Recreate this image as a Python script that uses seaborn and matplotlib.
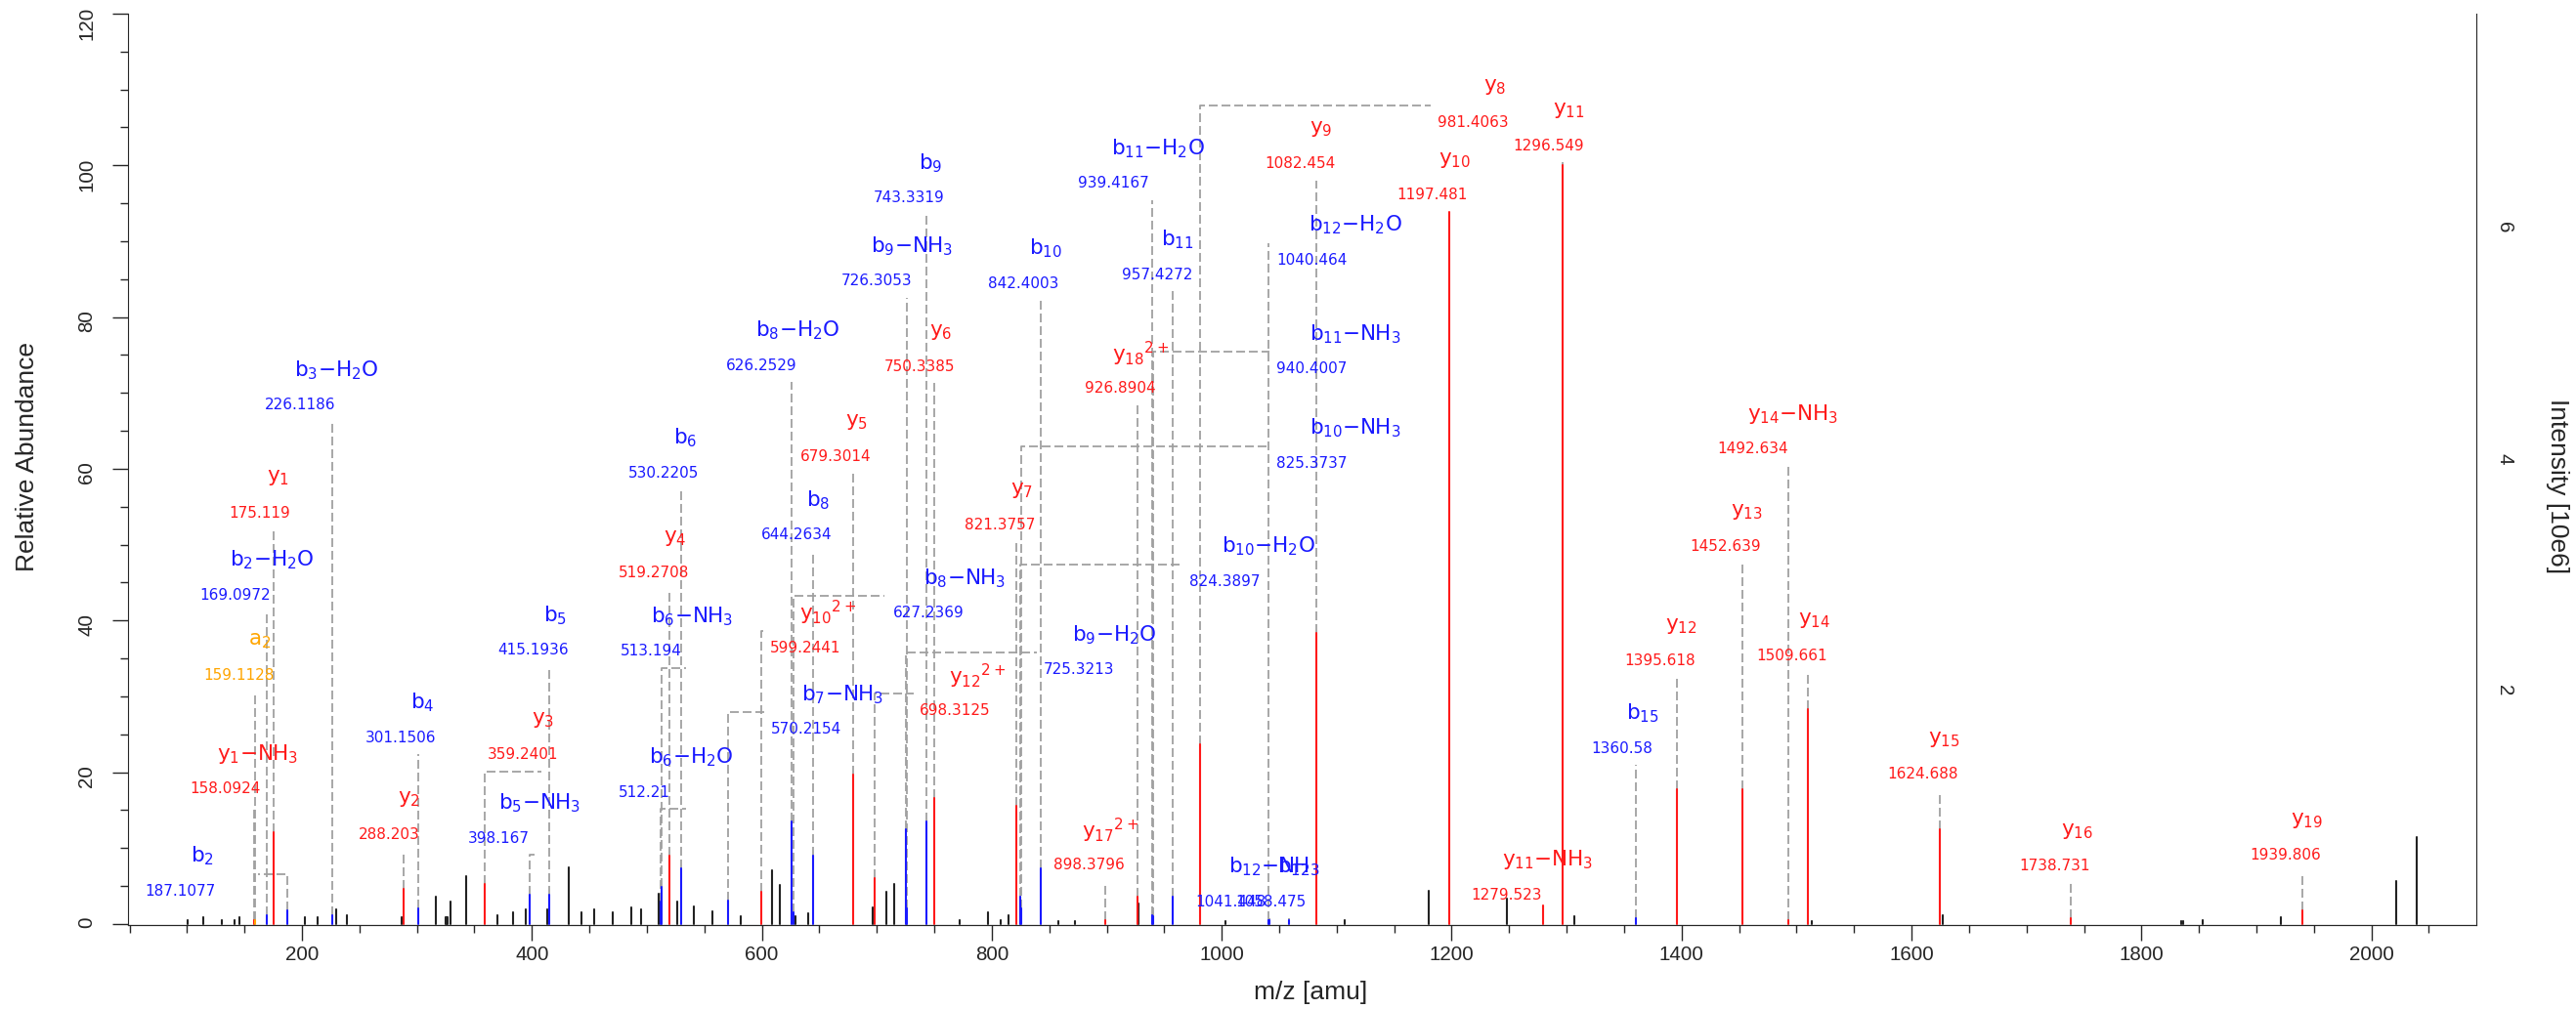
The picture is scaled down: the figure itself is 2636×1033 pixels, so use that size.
import re
import pandas as pd
import matplotlib
matplotlib.use("Agg")
import matplotlib.pyplot as plt
from matplotlib.ticker import MultipleLocator
import seaborn as sns

sns.set_style("ticks")
plt.rcParams["font.family"] = ["Liberation Sans", "DejaVu Sans"]
plt.rcParams["mathtext.fontset"] = "dejavusans"
plt.rcParams["mathtext.default"] = "regular"

# annotated fragment ions
ion_names = ["b2", "b2-H2O", "y1", "a2", "y1-NH3", "b3-H2O", "y2", "b4", "y3", "b5-NH3",
             "b5", "b6-H2O", "b6-NH3", "y4", "b6", "b7-NH3", "y10^2+", "b8-H2O", "b8-NH3", "b8",
             "y5", "y12^2+", "b9-H2O", "b9-NH3", "b9", "y6", "y7", "b10-H2O", "b10-NH3", "b10",
             "y17^2+", "y18^2+", "b11-H2O", "b11-NH3", "b11", "y8", "b12-H2O", "b12-NH3", "b12", "y9",
             "y10", "y11", "y11-NH3", "b15", "y12", "y13", "y14-NH3", "y14", "y15", "y16", "y19"]
ion_mz = [187.1077, 169.0972, 175.119, 159.1128, 158.0924, 226.1186, 288.203, 301.1506, 359.2401, 398.167,
          415.1936, 512.21, 513.194, 519.2708, 530.2205, 570.2154, 599.2441, 626.2529, 627.2369, 644.2634,
          679.3014, 698.3125, 725.3213, 726.3053, 743.3319, 750.3385, 821.3757, 824.3897, 825.3737, 842.4003,
          898.3796, 926.8904, 939.4167, 940.4007, 957.4272, 981.4063, 1040.464, 1041.448, 1058.475, 1082.454,
          1197.481, 1296.549, 1279.523, 1360.58, 1395.618, 1452.639, 1492.634, 1509.661, 1624.688, 1738.731, 1939.806]
ion_int = [1.8, 1.2, 12.1, 0.55, 0.55, 1.1, 4.6, 2.1, 5.3, 3.9,
           3.9, 3.0, 4.9, 9.0, 7.3, 3.1, 4.2, 13.5, 1.5, 9.0,
           19.7, 6.0, 12.5, 2.0, 13.5, 16.6, 15.6, 3.6, 2.0, 7.3,
           0.5, 3.6, 1.2, 1.0, 3.6, 23.7, 0.5, 0.5, 0.5, 38.3,
           93.9, 100.0, 2.5, 0.7, 17.7, 17.7, 0.5, 28.3, 12.5, 0.7, 1.84]

# unassigned peaks
other_mz = [100.3, 113.9, 130.0, 141.4, 145.9, 202.6, 213.9, 230.0, 239.1, 286.4,
            316.2, 324.6, 325.8, 327.0, 329.5, 343.1, 370.3, 383.9, 394.9, 413.3,
            431.8, 443.1, 454.1, 470.5, 486.4, 495.2, 510.2, 526.6, 540.9, 556.8,
            581.5, 608.6, 615.6, 629.1, 640.3, 696.7, 708.3, 715.3, 771.8, 796.4,
            808.1, 814.8, 858.1, 872.2, 927.9, 1003.2, 1107.3, 1180.3, 1248.3, 1307.1,
            1513.2, 1627.0, 1834.3, 1836.2, 1853.4, 1921.4, 2021.5, 2039.3]
other_int = [0.55, 0.86, 0.5, 0.5, 0.86, 0.86, 0.86, 1.93, 1.2, 0.86,
             3.56, 0.86, 0.86, 0.86, 2.9, 6.35, 1.2, 1.54, 1.93, 1.93,
             7.4, 1.54, 1.93, 1.5, 2.2, 1.9, 4.0, 3.0, 2.3, 1.7,
             1.0, 7.1, 5.1, 1.0, 1.4, 2.2, 4.3, 5.3, 0.5, 1.6,
             0.5, 1.2, 0.4, 0.4, 2.7, 0.4, 0.5, 4.4, 3.4, 1.0,
             0.4, 1.2, 0.4, 0.4, 0.5, 0.9, 5.7, 11.5]

# label layout (ion name centre, number centre x)
name_x = [113.3, 173.4, 179.1, 163.5, 161.2, 229.9, 293.5, 304.6, 409.8, 406.6,
          420.2, 538.3, 539.2, 524.2, 533.2, 670.1, 657.3, 631.0, 776.3, 649.3,
          682.8, 787.4, 906.8, 730.8, 746.6, 755.9, 826.0, 1040.7, 1116.3, 846.9,
          903.4, 929.3, 944.6, 1116.3, 961.6, 1237.9, 1116.3, 1045.8, 1062.8, 1086.6,
          1202.6, 1301.6, 1283.4, 1366.2, 1399.4, 1456.3, 1496.8, 1515.0, 1628.0, 1744.1, 1943.4]
name_y = [8.92, 47.96, 58.78, 37.32, 22.43, 72.97, 16.43, 29.18, 26.94, 15.87,
          40.67, 21.94, 40.54, 50.84, 64.05, 30.24, 40.98, 78.21, 45.59, 55.85,
          66.19, 32.69, 38.13, 89.36, 100.3, 78.08, 57.18, 49.75, 65.34, 89.06,
          12.32, 75.2, 102.2, 77.77, 90.22, 110.3, 92.15, 7.54, 7.54, 104.8,
          100.7, 107.2, 8.44, 27.75, 39.32, 54.31, 67.27, 40.0, 24.32, 12.23, 13.67]
num_x = [94.3, 142.0, 163.1, 145.6, 132.9, 198.6, 276.0, 285.5, 391.8, 371.4,
         401.3, 497.5, 503.5, 506.0, 514.5, 638.2, 637.8, 599.5, 744.9, 630.4,
         664.1, 768.2, 875.8, 699.5, 727.9, 736.9, 806.9, 1002.4, 1078.1, 827.3,
         884.6, 911.5, 906.0, 1078.1, 943.5, 1218.7, 1078.1, 1007.9, 1042.4, 1068.2,
         1183.3, 1284.2, 1248.0, 1348.4, 1381.5, 1438.5, 1461.8, 1496.3, 1609.9, 1724.9, 1925.2]

# leaders that bend sideways to the label
side_leaders = {"b2": 161.7, "b7-NH3": 601.9, "y10^2+": 601.0, "b8-NH3": 706.6, "y12^2+": 732.3,
                "b9-H2O": 839.5, "b10-H2O": 965.9, "b10-NH3": 1041.5, "b11-NH3": 1041.5,
                "y8": 1181.7, "b12-H2O": 1040.464}
shifted_leaders = {"y3": 407.9, "b5-NH3": 402.3, "b6-H2O": 533.9, "b6-NH3": 533.9}

colors = {"a": "#ffa500", "b": "#1a1aff", "y": "#ff1a1a", "other": "#222222"}


def ion_label(name):
    base, _, charge = name.partition("^")
    m = re.match(r"([aby])(\d+)(.*)", base)
    s = m.group(1) + "$_{" + m.group(2) + "}"
    if charge:
        s += "{}^{" + charge + "}"
    s += "$"
    loss = m.group(3)
    if loss:
        s += re.sub(r"(\d)", r"$_{\1}$", loss.replace("-", "\u2212"))
    return s


rows = []
for i, (m, h) in enumerate(zip(other_mz, other_int)):
    rows += [(i, m, 0.0, "other"), (i, m, h, "other")]
others = pd.DataFrame(rows, columns=["pid", "mz", "rel", "kind"])
rows = []
for i, (n, m, h) in enumerate(zip(ion_names, ion_mz, ion_int)):
    rows += [(i, m, 0.0, n[0]), (i, m, h, n[0])]
ions = pd.DataFrame(rows, columns=["pid", "mz", "rel", "kind"])

fig = plt.figure(figsize=(26.36, 10.33), dpi=100)
ax = fig.add_axes([0.04958, 0.08354, 0.91184, 0.90290])

sns.lineplot(data=others, x="mz", y="rel", units="pid", estimator=None, hue="kind",
             palette=colors, sort=False, legend=False, linewidth=1.5, ax=ax)
sns.lineplot(data=ions, x="mz", y="rel", units="pid", estimator=None, hue="kind",
             palette=colors, sort=False, legend=False, linewidth=1.5, ax=ax)

# dashed leaders + labels
for i, n in enumerate(ion_names):
    m, h = ion_mz[i], ion_int[i]
    c = colors[n[0]]
    if n in side_leaders:
        ex, ey = side_leaders[n], name_y[i] - 2.35
    else:
        ex, ey = shifted_leaders.get(n, m), name_y[i] - 6.8
    if ey > h:
        ax.plot([m, m, ex], [h, ey, ey], color="#a0a0a0", lw=1.3,
                linestyle=(0, (5, 2.2)), zorder=1)
    ax.text(name_x[i], name_y[i], ion_label(n), color=c, fontsize=15.5,
            family="DejaVu Sans", ha="center", va="center")
    ax.text(num_x[i], name_y[i] - 4.6, str(m), color=c, fontsize=11,
            family="DejaVu Sans", ha="center", va="center")

ax.set_xlim(48.45, 2091.5)
ax.set_ylim(-0.1, 120)
ax.xaxis.set_major_locator(MultipleLocator(200))
ax.xaxis.set_minor_locator(MultipleLocator(50))
ax.yaxis.set_major_locator(MultipleLocator(20))
ax.yaxis.set_minor_locator(MultipleLocator(5))
ax.tick_params(axis="both", which="major", length=11.5, width=1.0, labelsize=14.8)
ax.tick_params(axis="both", which="minor", length=5.8, width=1.0)
ax.tick_params(axis="x", pad=4)
ax.tick_params(axis="y", labelrotation=90, pad=12)
ax.set_xlabel("")
ax.set_ylabel("")
sns.despine(ax=ax, top=True, right=True)

scale = 6.55 / 100
ax2 = ax.twinx()
ax2.set_ylim(-0.1 * scale, 120 * scale)
ax2.set_yticks([0, 2, 4, 6], ["", "2", "4", "6"])
ax2.yaxis.set_minor_locator(MultipleLocator(0.5))
ax2.tick_params(axis="y", which="major", length=11.5, width=1.0, labelsize=14.8,
                labelrotation=-90, pad=2)
ax2.tick_params(axis="y", which="minor", length=5.8, width=1.0)
sns.despine(ax=ax2, top=True, left=True, right=False)

fig.text(28 / 2636, 1 - 467.5 / 1033, "Relative Abundance", rotation=90,
         ha="center", va="center", fontsize=19)
fig.text(1341 / 2636, 1 - 1016 / 1033, "m/z [amu]", ha="center", va="center", fontsize=19)
fig.text(2617 / 2636, 1 - 498 / 1033, "Intensity [10e6]", rotation=-90,
         ha="center", va="center", fontsize=19)

fig.savefig("out.png", dpi=100)
